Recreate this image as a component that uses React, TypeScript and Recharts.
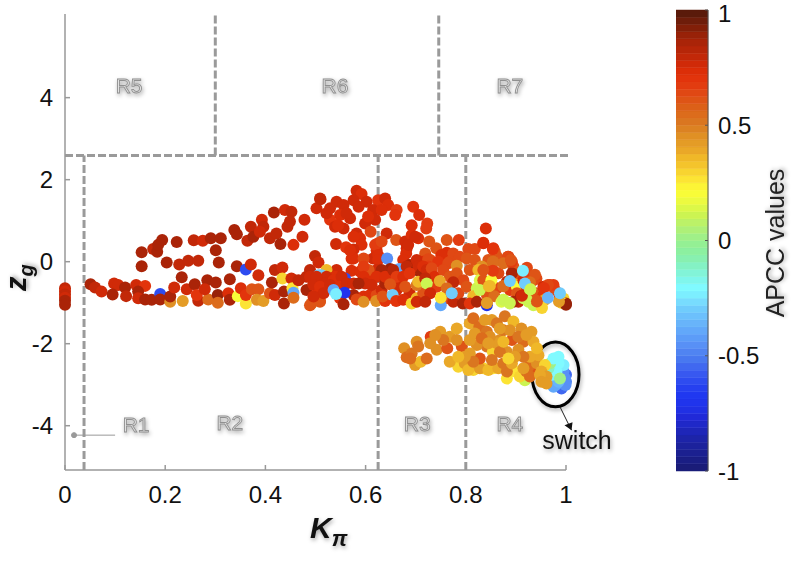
import {
  Bar,
  BarChart,
  Label,
  ReferenceArea,
  ReferenceDot,
  ReferenceLine,
  Scatter,
  ScatterChart,
  XAxis,
  YAxis,
} from "recharts";

const FONT = "'Liberation Sans', Arial, sans-serif";

type Row = [number, number, number]; // kappa, zg, apcc

// vertical column at kappa = 0
const columnAtZero: Row[] = [
  [0, -0.65, 0.8], [0, -0.72, 0.78], [0, -0.8, 0.8], [0, -0.88, 0.78], [0, -0.95, 0.85], [0, -1.05, 0.85],
];

const upperBranch: Row[] = [
  [0.153, 0.23, 0.85], [0.153, -0.11, 0.85], [0.176, 0.31, 0.8], [0.184, 0.24, 0.85], [0.186, 0.41, 0.85], [0.194, 0.53, 0.85],
  [0.203, -0.02, 0.85], [0.223, 0.48, 0.85], [0.228, -0.07, 0.8], [0.246, 0.02, 0.8], [0.266, 0.02, 0.8], [0.257, 0.52, 0.8],
  [0.275, 0.51, 0.78], [0.291, 0.57, 0.85], [0.311, 0.57, 0.85], [0.301, 0.28, 0.85], [0.307, -0.02, 0.85], [0.343, -0.11, 0.85],
  [0.361, -0.19, -0.6], [0.371, -0.07, 0.75], [0.338, 0.77, 0.85], [0.343, 0.67, 0.85], [0.364, 0.51, 0.8], [0.371, 0.85, 0.8],
  [0.376, 0.61, 0.85], [0.393, 1.02, 0.75], [0.396, 0.85, 0.8], [0.389, 0.73, 0.75], [0.409, 0.57, 0.8], [0.417, 1.2, 0.85],
  [0.422, 0.69, 0.8], [0.43, 0.43, 0.85], [0.439, 1.26, 0.78], [0.452, 1.22, 0.8], [0.444, 0.85, 0.8], [0.449, 0.98, 0.8],
  [0.478, 1.02, 0.75], [0.474, 0.61, 0.75], [0.456, 0.41, 0.72], [0.502, 1.3, 0.75], [0.499, 0.14, 0.8], [0.509, 1.54, 0.8],
  [0.51, 1.52, 0.8], [0.582, 1.73, 0.75], [0.592, 1.65, 0.72], [0.576, 1.5, 0.75], [0.542, 1.46, 0.75], [0.556, 1.38, 0.75],
  [0.529, 1.3, 0.75], [0.569, 1.06, 0.75], [0.529, 1.02, 0.7], [0.539, 0.85, 0.75], [0.556, 0.81, 0.75], [0.599, 0.93, 0.75],
  [0.602, 1.46, 0.75], [0.625, 1.5, 0.7], [0.639, 1.54, 0.75], [0.615, 1.26, 0.75], [0.619, 1.02, 0.75], [0.645, 1.38, 0.72],
  [0.662, 1.26, 0.68], [0.659, 1.14, 0.7], [0.695, 1.34, 0.7], [0.707, 1.14, 0.72], [0.723, 0.93, 0.68], [0.721, 0.81, 0.68],
  [0.692, 0.89, 0.72], [0.61, 0.73, 0.65], [0.642, 0.69, 0.75], [0.582, 0.69, 0.75], [0.589, 0.57, 0.72], [0.592, 0.41, 0.72],
  [0.541, 0.43, 0.78], [0.561, 0.35, 0.7], [0.576, 0.3, 0.75], [0.572, 0.07, 0.72], [0.661, 0.53, 0.6], [0.625, 0.45, 0.65],
  [0.622, 0.28, 0.72], [0.679, 0.49, 0.75], [0.692, 0.65, 0.72], [0.705, 0.57, 0.72], [0.682, 0.33, 0.75], [0.681, 0.2, 0.72],
  [0.727, 0.49, 0.62], [0.741, 0.33, 0.6], [0.762, 0.53, 0.6], [0.786, 0.53, 0.68], [0.719, 0.2, 0.6], [0.762, 0.22, 0.72],
  [0.805, 0.31, 0.65], [0.818, 0.31, 0.65], [0.835, 0.45, 0.72], [0.84, 0.81, 0.72], [0.855, 0.33, 0.7], [0.858, 0.24, 0.62],
  [0.885, 0.12, 0.72], [0.862, 0.12, 0.6], [0.845, 0.04, 0.62], [0.675, 0.04, 0.72], [0.688, -0.08, 0.85],
  [0.549, 1.14, 0.72], [0.562, 1.18, 0.75], [0.586, 1.34, 0.75], [0.632, 1.26, 0.72], [0.605, 1.1, 0.72], [0.522, 1.18, 0.75],
  [0.545, 0.89, 0.72], [0.576, 0.61, 0.72], [0.619, 0.41, 0.68], [0.632, 0.49, 0.65], [0.615, 0.08, 0.75], [0.625, 0.16, 0.72],
  [0.576, 0.08, 0.72], [0.569, 0.28, 0.72], [0.685, 0.41, 0.75], [0.699, 0.61, 0.75], [0.729, 0.04, 0.65], [0.751, 0.16, 0.72],
  [0.775, 0.2, 0.65], [0.768, 0, 0.65], [0.788, 0.12, 0.65], [0.715, 0, 0.72], [0.854, 0.31, 0.7], [0.884, 0.12, 0.65],
];

const mainBand: Row[] = [
  [0.051, -0.55, 0.85], [0.06, -0.63, 0.8], [0.073, -0.73, 0.75], [0.098, -0.53, 0.78], [0.106, -0.57, 0.75], [0.095, -0.8, 0.85],
  [0.12, -0.63, 0.85], [0.122, -0.84, 0.8], [0.142, -0.57, 0.75], [0.16, -0.59, 0.7], [0.146, -0.73, 0.85], [0.146, -0.89, 0.75],
  [0.16, -0.92, 0.85], [0.173, -0.93, 0.85], [0.19, -0.79, -0.6], [0.19, -0.92, 0.85], [0.21, -0.98, 0.45], [0.21, -0.85, 0.85],
  [0.218, -0.63, 0.78], [0.233, -0.38, 0.85], [0.235, -0.96, 0.42], [0.243, -0.67, 0.75], [0.259, -0.55, 0.85], [0.266, -0.95, 0.8],
  [0.263, -0.81, 0.7], [0.284, -0.45, 0.85], [0.301, -0.51, 0.85], [0.286, -0.92, 0.55], [0.279, -0.67, 0.75], [0.305, -0.81, 0.9],
  [0.305, -1.0, 0.55], [0.326, -0.77, 0.72], [0.329, -0.43, 0.85], [0.329, -0.93, 0.85], [0.345, -0.84, 0.2], [0.351, -0.65, 0.72],
  [0.361, -1.02, 0.25], [0.361, -0.81, 0.7], [0.373, -0.67, 0.6], [0.386, -0.67, 0.6], [0.386, -0.33, 0.75], [0.383, -0.93, 0.45],
  [0.396, -0.96, 0.42], [0.409, -0.77, 0.6], [0.413, -0.51, 0.85], [0.419, -0.81, 0.75], [0.419, -0.2, 0.8], [0.434, -0.14, 0.75],
  [0.434, -0.41, 0.3], [0.437, -0.73, 0.85], [0.437, -1.02, 0.85], [0.452, -0.41, 0.75], [0.454, -0.65, 0.25], [0.456, -0.76, -0.4],
  [0.456, -0.88, 0.55], [0.466, -0.45, 0.8], [0.482, -0.37, 0.8], [0.482, -0.69, 0.85], [0.489, -0.2, 0.8], [0.496, -0.53, 0.8],
  [0.492, -1.02, 0.55], [0.509, -0.45, 0.75], [0.506, -0.33, -0.3], [0.502, -0.81, 0.75], [0.509, -0.98, 0.6],
  [0.506, -0.02, 0.75], [0.596, 0.08, 0.65], [0.625, 0.04, 0.72], [0.643, 0.08, -0.45], [0.667, -0.18, -0.4], [0.682, -0.12, 0.8],
  [0.702, 0.04, 0.78], [0.702, -0.2, 0.95], [0.725, 0.06, 0.65], [0.745, 0, 0.7], [0.765, -0.04, 0.65], [0.782, -0.1, 0.45],
  [0.802, 0.08, 0.62], [0.818, 0.04, 0.62], [0.835, -0.16, 0.55], [0.855, 0, 0.55], [0.888, 0.04, 0.65], [0.854, -0.2, 0.65],
  [0.832, -0.12, 0.45], [0.649, -0.18, 0.88], [0.622, -0.2, 0.78], [0.572, -0.22, 0.72], [0.589, -0.24, 0.72], [0.612, -0.37, 0.72],
  [0.542, -0.2, 0.78], [0.522, -0.2, 0.35], [0.512, -0.33, -0.3], [0.489, -0.37, 0.78], [0.539, -0.37, 0.72], [0.559, -0.41, -0.6],
  [0.705, -0.12, 0.78], [0.725, -0.12, 0.68], [0.668, -0.45, 0.78], [0.649, -0.37, 0.78], [0.632, -0.2, 0.85], [0.606, -0.2, 0.6],
  [0.596, -0.12, 0.68], [0.522, -0.37, 0.78], [0.502, -0.37, 0.78], [0.519, -0.53, 0.78], [0.536, -0.45, 0.72], [0.552, -0.37, 0.78],
  [0.496, -0.57, 0.78], [0.509, -0.61, 0.72], [0.502, -0.81, 0.72], [0.529, -0.57, 0.78], [0.549, -0.61, 0.72], [0.549, -0.89, 0.7],
  [0.562, -0.53, 0.78], [0.576, -0.81, 0.85], [0.596, -0.85, 0.72], [0.596, -0.37, 0.72], [0.599, -0.53, 0.78], [0.609, -0.81, 0.72],
  [0.622, -0.37, 0.72], [0.622, -0.81, 0.65], [0.632, -0.69, 0.78], [0.639, -0.53, 0.85], [0.639, -0.37, 0.72], [0.645, -0.89, 0.55],
  [0.655, -0.2, 0.82], [0.662, -0.37, 0.68], [0.662, -0.69, 0.78], [0.675, -0.37, 0.72], [0.688, -0.28, 0.7], [0.688, -0.77, 0.78],
  [0.702, -0.89, 0.35], [0.712, -0.28, 0.85], [0.715, -0.12, 0.72], [0.715, -0.77, 0.6], [0.722, -0.2, 0.78], [0.732, -0.16, 0.65],
  [0.738, -0.37, 0.72], [0.742, -0.61, 0.68], [0.755, -0.2, 0.65], [0.762, -0.89, 0.65], [0.768, -0.37, 0.6], [0.775, -0.98, 0.8],
  [0.782, -0.28, 0.62], [0.785, -0.77, 0.65], [0.795, -0.45, 0.65], [0.802, -0.61, 0.62], [0.808, -0.2, 0.62], [0.822, -0.65, 0.1],
  [0.825, -0.2, 0.35], [0.828, -0.45, 0.15], [0.842, -0.81, 0.6], [0.862, -0.65, 0.65], [0.865, -0.28, 0.65], [0.875, -0.04, 0.55],
  [0.882, -0.49, 0.8], [0.888, -0.69, 0.68], [0.895, -0.12, 0.62], [0.895, -0.45, 0.35], [0.902, -0.61, 0.2], [0.902, -0.77, 0.62],
  [0.905, -0.28, 0.65], [0.905, -0.98, 0.8], [0.915, -0.45, 0.78], [0.921, -0.85, 0.72], [0.925, -0.33, 0.68], [0.925, -0.98, 0.12],
  [0.941, -0.41, 0.65], [0.941, -0.77, 0.6], [0.955, -0.81, 0.7], [0.958, -0.93, 0.4], [0.968, -0.57, 0.7], [0.978, -0.69, 0.65],
  [0.576, -0.53, 0.75], [0.586, -0.53, 0.85], [0.612, -0.57, 0.78], [0.649, -0.55, 0.6], [0.679, -0.61, 0.62], [0.702, -0.57, 0.5],
  [0.705, -0.49, 0.35], [0.719, -0.41, 0.8], [0.722, -0.53, 0.1], [0.748, -0.47, 0.38], [0.775, -0.5, 0.8], [0.762, -0.65, 0.55],
  [0.729, -0.77, 0.75], [0.75, -1.06, -0.4], [0.75, -0.88, 0.25], [0.772, -0.77, -0.3], [0.794, -1.02, 0.85], [0.815, -0.84, 0.35],
  [0.835, -0.45, 0.6], [0.851, -0.45, 0.2], [0.848, -0.59, 0.35], [0.875, -0.59, 0.55], [0.892, -0.28, 0.85],
  [0.489, -1.06, 0.6], [0.509, -0.96, 0.62], [0.516, -0.77, 0.78], [0.496, -0.85, 0.78], [0.536, -0.69, -0.4], [0.558, -0.76, -0.7],
  [0.541, -0.79, -0.25], [0.556, -1.04, 0.85], [0.582, -0.92, 0.65], [0.596, -0.98, 0.45], [0.621, -0.96, 0.45], [0.639, -0.96, 0.7],
  [0.634, -0.85, 0.6], [0.654, -0.81, -0.3], [0.661, -0.96, 0.7], [0.675, -0.93, 0.72], [0.692, -1.02, 0.3], [0.702, -0.98, 0.75],
  [0.719, -0.98, 0.8], [0.808, -1.02, 0.7], [0.842, -1.06, -0.7], [0.842, -1.0, 0.5], [0.857, -0.84, 0.55], [0.828, -0.69, 0.1],
  [0.822, -0.98, 0.85], [0.871, -0.98, 0.15], [0.875, -0.93, 0.1], [0.888, -1.02, 0.1], [0.895, -0.98, 0.85], [0.91, -0.84, 0.85],
  [0.915, -0.89, 0.12], [0.921, -0.61, 0.72], [0.935, -0.45, 0.65], [0.935, -1.06, 0.1], [0.941, -0.95, 0.6], [0.951, -1.1, 0.3],
  [0.955, -0.61, 0.75], [0.975, -0.57, 0.68], [0.988, -0.85, 0.7], [0.995, -0.9, 0.3], [0.987, -0.96, 0.5], [1.0, -1.02, 0.9],
  [0.835, 0.46, 0.72], [0.892, 0, 0.68], [0.922, -0.15, 0.65], [0.938, -0.32, 0.62], [0.964, -0.57, 0.65], [0.854, 0, 0.55],
  [0.854, -0.22, 0.68], [0.89, 0.04, 0.62], [0.835, -0.2, 0.6], [0.956, -0.64, 0.7], [0.928, -0.5, 0.55], [0.875, -0.93, 0.1],
  [0.888, -1.01, 0.1], [0.842, -1.01, 0.42], [0.846, -0.6, 0.35], [0.875, -0.6, 0.55], [0.952, -1.13, 0.3], [0.922, -0.93, 0.1],
  [0.992, -1.01, 0.3], [1.0, -1.05, 0.88], [0.912, -0.83, 0.75], [0.942, -0.97, 0.62], [0.986, -0.97, 0.42],
  [0.928, -0.67, 0.1], [0.888, -0.47, -0.3], [0.914, -0.22, -0.22], [0.918, -0.53, -0.3], [0.929, -0.67, 0.1], [0.988, -0.77, -0.3],
  [0.964, -0.88, -0.35],
];

const lowerCluster: Row[] = [
  [0.677, -2.11, 0.45], [0.682, -2.33, 0.55], [0.699, -2.52, 0.42], [0.692, -2.24, 0.5], [0.702, -1.95, 0.45], [0.71, -2.44, 0.35],
  [0.722, -2.36, 0.55], [0.73, -1.83, 0.68], [0.705, -2.07, 0.5], [0.749, -1.71, 0.42], [0.742, -2.15, 0.45], [0.763, -2.11, 0.6],
  [0.768, -1.83, 0.42], [0.782, -1.63, 0.38], [0.785, -2.56, 0.3], [0.768, -2.44, 0.4], [0.792, -2.07, 0.6], [0.798, -2.48, 0.42],
  [0.808, -1.5, 0.38], [0.815, -1.38, 0.55], [0.827, -1.59, 0.55], [0.842, -1.71, 0.5], [0.852, -1.42, 0.42], [0.878, -1.33, 0.5],
  [0.895, -1.46, 0.35], [0.911, -1.63, 0.45], [0.931, -1.71, 0.42], [0.868, -1.91, 0.45], [0.892, -1.91, 0.6], [0.915, -1.95, 0.55],
  [0.935, -1.95, 0.4], [0.882, -2.85, 0.25], [0.898, -2.68, 0.25], [0.815, -2.64, 0.3], [0.835, -2.6, 0.3], [0.855, -2.6, 0.28],
  [0.918, -2.89, 0.1], [0.805, -2.64, 0.35], [0.828, -2.6, 0.42], [0.845, -2.64, 0.35], [0.865, -2.6, 0.4], [0.882, -2.68, 0.5],
  [0.908, -2.8, 0.3], [0.921, -2.68, 0.5], [0.935, -2.68, 0.6], [0.925, -2.56, 0.55], [0.942, -2.48, 0.45], [0.945, -2.28, 0.4],
  [0.828, -2.36, 0.6], [0.842, -2.07, 0.5], [0.854, -2.2, 0.3], [0.875, -2.48, 0.5], [0.892, -2.48, 0.38], [0.905, -2.15, 0.45],
  [0.928, -2.32, 0.4], [0.928, -2.8, 0.55], [0.915, -2.6, 0.42], [0.822, -2.03, 0.45], [0.808, -2.24, 0.42], [0.875, -1.67, 0.5],
  [0.862, -1.99, 0.42], [0.942, -2.11, 0.35], [0.808, -1.91, 0.42], [0.848, -1.83, 0.45], [0.882, -2.2, 0.45], [0.818, -1.75, 0.42],
  [0.832, -1.87, 0.55], [0.862, -1.5, 0.5], [0.888, -1.67, 0.45], [0.905, -1.83, 0.5], [0.921, -1.79, 0.42], [0.868, -2.2, 0.5],
  [0.852, -2.4, 0.5], [0.815, -2.44, 0.5], [0.915, -2.32, 0.5], [0.898, -2.32, 0.42], [0.885, -2.36, 0.3], [0.798, -2.32, 0.42],
  [0.785, -2.32, 0.35], [0.838, -1.42, 0.42], [0.868, -1.63, 0.42], [0.845, -1.99, 0.42], [0.875, -1.95, 0.35], [0.729, -1.99, 0.45],
  [0.689, -2.36, 0.55], [0.755, -1.91, 0.5], [0.782, -1.91, 0.45], [0.739, -1.79, 0.45],
];

const switchCluster: Row[] = [
  [1.0, -2.76, -0.55], [1.0, -2.93, -0.5], [0.991, -3.09, -0.55], [0.999, -3.01, -0.45], [0.998, -2.85, -0.45], [0.975, -3.05, -0.4],
  [0.98, -3.0, -0.4], [0.995, -2.68, -0.45], [0.985, -2.93, -0.35], [0.972, -2.76, -0.25], [0.995, -2.52, -0.25], [0.985, -2.48, -0.2],
  [0.981, -2.68, -0.2], [0.978, -2.56, -0.2], [0.965, -2.6, -0.1], [0.988, -2.85, 0], [0.968, -2.48, 0], [0.975, -2.36, -0.2],
  [0.985, -2.32, -0.2], [0.958, -2.52, 0.3], [0.951, -2.68, 0.4], [0.961, -2.8, 0.42], [0.948, -2.76, 0.4], [0.951, -2.93, 0.42],
  [0.961, -2.97, 0.42],
];

// colorbar bands read bottom to top, 64 steps from -1 to 1
const apccBands = [
  "#1a1c78", "#1a1e84", "#1b2090", "#1c229c", "#1d24a8", "#1e26b8", "#1f28c8", "#2029d8",
  "#2030e4", "#2034ec", "#2038f0", "#2640f0", "#2e4cf0", "#3858f0", "#4068f0", "#4878f0",
  "#5084f2", "#5890f6", "#5c9cf8", "#62a8fa", "#68b4fa", "#6cc0fc", "#70ccfc", "#78dcfe",
  "#7ceeff", "#80faff", "#80f6ec", "#82f4d8", "#84f2c4", "#88f0b0", "#8cf0a0", "#94f094",
  "#a0f088", "#aef078", "#bcf268", "#ccf452", "#dcf848", "#ecfa40", "#f8fc38", "#fcf436",
  "#fce434", "#f8d430", "#f4c42c", "#f0b828", "#eaa828", "#e49c26", "#e09024", "#dc8222",
  "#da7620", "#dc6c1c", "#dc6018", "#de5416", "#e04814", "#e23c10", "#e2340c", "#dc2e08",
  "#d02a08", "#c22808", "#b62608", "#aa2408", "#982208", "#821f08", "#6e1d0a", "#5a1a0a",
];

const kappaTicks = [0, 0.2, 0.4, 0.6, 0.8, 1];
const zgTicks = [-4, -2, 0, 2, 4];
const apccTicks = [-1, -0.5, 0, 0.5, 1];

const zgTop = 6.04;
const zgBottom = -5.08;
const regionFloorLines = [0.038, 0.625, 0.8];
const regionTopLines = [0.3, 0.746];
const regionSplit = 2.59;
const regionLabels: { name: string; k: number; z: number }[] = [
  { name: "R1", k: 0.142, z: -3.98 },
  { name: "R2", k: 0.329, z: -3.93 },
  { name: "R3", k: 0.703, z: -3.96 },
  { name: "R4", k: 0.888, z: -3.96 },
  { name: "R5", k: 0.128, z: 4.28 },
  { name: "R6", k: 0.539, z: 4.28 },
  { name: "R7", k: 0.888, z: 4.28 },
];

const colorFor = (apcc: number) => {
  const i = Math.floor(((apcc + 1) / 2) * apccBands.length);
  return apccBands[Math.min(apccBands.length - 1, i)];
};

const toPoints = (rows: Row[]) => rows.map(([k, z, apcc]) => ({ k, z, apcc }));

// one row with every band stacked; the stack runs from 0 to 2, ticks read it back as -1..1
const colorbarRow = [Object.fromEntries(apccBands.map((_, idx) => [`b${idx}`, 2 / apccBands.length]))];

const softShadow = "drop-shadow(1px 2px 2px rgba(0,0,0,0.35))";

const dashProps = { stroke: "#9a9a9a", strokeWidth: 3, strokeDasharray: "8 3" };
const tickStyle = { fontFamily: FONT, fontSize: 24, fill: "#111" };

const Dot = (p: { cx?: number; cy?: number; payload?: { apcc: number } }) => (
  <circle cx={p.cx} cy={p.cy} r={6} fill={colorFor(p.payload?.apcc ?? 0)} />
);

const Series = (rows: Row[], name: string) => (
  <Scatter key={name} data={toPoints(rows)} dataKey="z" isAnimationActive={false} shape={Dot} />
);

export default function App() {
  return (
    <div style={{ position: "absolute", left: 0, top: 0, width: 793, height: 563, background: "white" }}>
      <div style={{ position: "absolute", left: 0, top: 0 }}>
        <ScatterChart width={793} height={563} margin={{ left: 5, right: 227, top: 14, bottom: 43 }}>
          <XAxis
            type="number"
            dataKey="k"
            domain={[0, 1]}
            ticks={kappaTicks}
            height={50}
            stroke="#999"
            strokeWidth={1.5}
            tickSize={-5}
            tickMargin={21}
            tick={tickStyle}
          >
            <Label
              content={() => (
                <text x={310} y={538} textAnchor="start" fontFamily={FONT} fontWeight="bold" fontStyle="italic" fill="#111" style={{ filter: softShadow }}>
                  <tspan fontSize={30}>K</tspan>
                  <tspan fontSize={22} dy={8}>π</tspan>
                </text>
              )}
            />
          </XAxis>
          <YAxis
            type="number"
            dataKey="z"
            domain={[zgBottom, zgTop]}
            ticks={zgTicks}
            width={60}
            stroke="#999"
            strokeWidth={1.5}
            tickSize={-5}
            tickMargin={17}
            tick={tickStyle}
          >
            <Label
              content={() => (
                <text x={26} y={291} transform="rotate(-90 26 291)" textAnchor="start" fontFamily={FONT} fontWeight="bold" fontStyle="italic" fill="#111" style={{ filter: softShadow }}>
                  <tspan fontSize={29}>z</tspan>
                  <tspan fontSize={20} dy={7}>g</tspan>
                </text>
              )}
            />
          </YAxis>

          {regionFloorLines.map((k) => (
            <ReferenceLine key={`floor-${k}`} segment={[{ x: k, y: zgBottom }, { x: k, y: regionSplit }]} {...dashProps} />
          ))}
          {regionTopLines.map((k) => (
            <ReferenceLine key={`top-${k}`} segment={[{ x: k, y: regionSplit }, { x: k, y: zgTop }]} {...dashProps} />
          ))}
          <ReferenceLine segment={[{ x: 0, y: regionSplit }, { x: 1.004, y: regionSplit }]} ifOverflow="visible" {...dashProps} />

          {Series(columnAtZero, "column")}
          {Series(upperBranch, "upper")}
          {Series(mainBand, "main")}
          {Series(lowerCluster, "lower")}
          {Series(switchCluster, "switch")}

          <ReferenceLine segment={[{ x: 0.018, y: -4.23 }, { x: 0.1, y: -4.23 }]} stroke="#999" strokeWidth={1} />
          <ReferenceDot x={0.018} y={-4.23} r={2.5} fill="#999" stroke="#999" />
          {regionLabels.map((r) => (
            <ReferenceDot
              key={r.name}
              x={r.k}
              y={r.z}
              shape={(p: { cx: number; cy: number }) => (
                <text x={p.cx} y={p.cy + 7} textAnchor="middle" fontFamily={FONT} fontSize={21} fill="#e4e4e4" stroke="#909090" strokeWidth={0.9} style={{ filter: softShadow }}>
                  {r.name}
                </text>
              )}
            />
          ))}
          <ReferenceArea
            x1={0.932}
            x2={1.026}
            y1={-3.54}
            y2={-1.96}
            ifOverflow="visible"
            shape={(p: { x: number; y: number; width: number; height: number }) => (
              <ellipse
                cx={p.x + p.width / 2}
                cy={p.y + p.height / 2}
                rx={p.width / 2}
                ry={p.height / 2}
                fill="none"
                stroke="#000"
                strokeWidth={3}
                style={{ filter: softShadow }}
              />
            )}
          />
          <ReferenceLine
            segment={[{ x: 0.988, y: -3.54 }, { x: 1.011, y: -4.11 }]}
            ifOverflow="visible"
            shape={(p: { x1: number; y1: number; x2: number; y2: number }) => (
              <g>
                <line x1={p.x1} y1={p.y1} x2={p.x2} y2={p.y2} stroke="#222" strokeWidth={1} />
                <polygon points={`${p.x2},${p.y2} ${p.x2 - 7},${p.y2 - 5} ${p.x2 + 1},${p.y2 - 8}`} fill="#111" />
              </g>
            )}
          />
          <ReferenceDot
            x={1.022}
            y={-4.37}
            ifOverflow="visible"
            shape={(p: { cx: number; cy: number }) => (
              <text x={p.cx} y={p.cy + 8} textAnchor="middle" fontFamily={FONT} fontSize={25} fill="#111" style={{ filter: softShadow }}>
                switch
              </text>
            )}
          />
        </ScatterChart>
      </div>

      <div style={{ position: "absolute", left: 676, top: 0 }}>
        <BarChart
          width={117}
          height={563}
          data={colorbarRow}
          barCategoryGap={0}
          margin={{ left: 0, right: 5, top: 10, bottom: 92 }}
        >
          <XAxis hide />
          <YAxis
            orientation="right"
            type="number"
            domain={[0, 2]}
            ticks={apccTicks.map((v) => v + 1)}
            tickFormatter={(v: number) => `${v - 1}`}
            width={80}
            stroke="#555"
            tickSize={-3}
            tickMargin={13}
            tick={{ ...tickStyle, dy: 0 }}
          >
            <Label
              content={() => (
                <text x={108} y={243} transform="rotate(-90 108 243)" textAnchor="middle" fontFamily={FONT} fontSize={25} fill="#222" style={{ filter: softShadow }}>
                  APCC values
                </text>
              )}
            />
          </YAxis>
          {apccBands.map((color, idx) => (
            <Bar
              key={`${color}-${idx}`}
              dataKey={`b${idx}`}
              stackId="apcc"
              fill={color}
              stroke={color}
              strokeWidth={0.5}
              isAnimationActive={false}
            />
          ))}
        </BarChart>
      </div>
    </div>
  );
}
